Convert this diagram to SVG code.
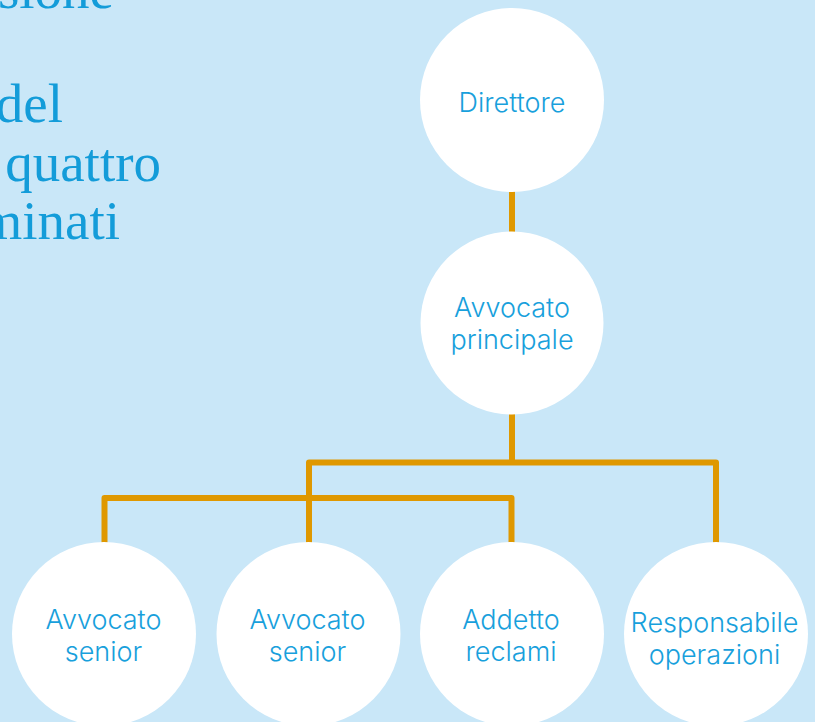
<svg xmlns="http://www.w3.org/2000/svg" width="815" height="722" viewBox="0 0 815 722">
<style>
.bg{fill:#c9e7f8}
.node circle{fill:#ffffff}
.node text{font-family:Inter,"Open Sans","Liberation Sans",sans-serif;font-weight:300;font-size:27px;fill:#18a0dc;text-anchor:middle}
.intro{font-family:"Liberation Serif",serif;font-size:55px;fill:#139cd9;text-anchor:end}
.conn{fill:none;stroke:#df9800;stroke-width:6;stroke-linejoin:round}
</style>
<rect class="bg" x="0" y="0" width="815" height="722"/>
<g id="intro">
<text class="intro" x="114" y="8">sione</text>
<text class="intro" x="63" y="122">del</text>
<text class="intro" x="161" y="181">quattro</text>
<text class="intro" x="120" y="239">minati</text>
</g>
<g id="connectors">
<line class="conn" x1="512" y1="190" x2="512" y2="234"/>
<polyline class="conn" points="512,412 512,462.5"/>
<polyline class="conn" points="309,545 309,462.5 716,462.5 716,545"/>
<polyline class="conn" points="104.5,545 104.5,498 511.5,498 511.5,545"/>
</g>
<g id="n-direttore" class="node">
<circle cx="512" cy="100" r="92"/>
<text x="512" y="112">Direttore</text>
</g>
<g id="n-principale" class="node">
<circle cx="512" cy="323" r="91.5"/>
<text x="512" y="317">Avvocato</text>
<text x="512" y="349">principale</text>
</g>
<g id="n-senior1" class="node">
<circle cx="104" cy="634" r="92"/>
<text x="103.5" y="629">Avvocato</text>
<text x="103.5" y="661">senior</text>
</g>
<g id="n-senior2" class="node">
<circle cx="308.5" cy="634" r="92"/>
<text x="307.5" y="629">Avvocato</text>
<text x="307.5" y="661">senior</text>
</g>
<g id="n-reclami" class="node">
<circle cx="512" cy="634" r="92"/>
<text x="511" y="629">Addetto</text>
<text x="511" y="661">reclami</text>
</g>
<g id="n-operazioni" class="node">
<circle cx="716" cy="634" r="92"/>
<text x="714.5" y="632">Responsabile</text>
<text x="714.5" y="664">operazioni</text>
</g>
</svg>
